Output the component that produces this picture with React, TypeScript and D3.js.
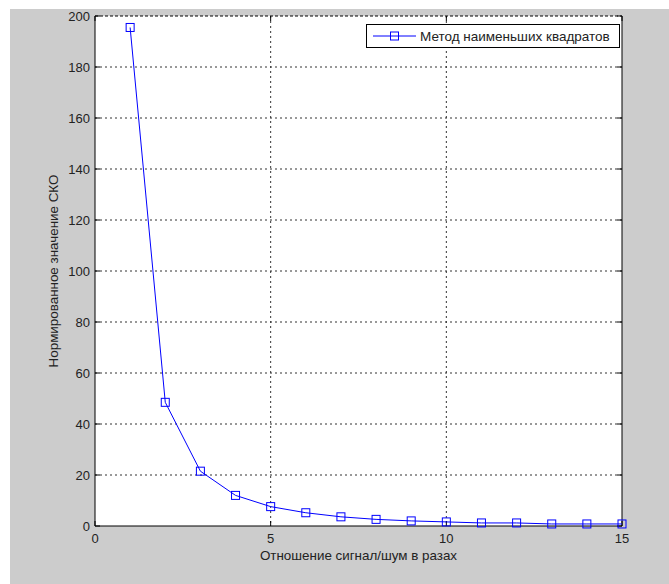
import React from "react";
import * as d3 from "d3";

const xValues = [1, 2, 3, 4, 5, 6, 7, 8, 9, 10, 11, 12, 13, 14, 15];
const yValues = [195.5, 48.5, 21.5, 12, 7.6, 5.2, 3.6, 2.6, 2.0, 1.6, 1.2, 1.2, 0.8, 0.8, 0.8];
const xTicks = [0, 5, 10, 15];
const yTicks = [0, 20, 40, 60, 80, 100, 120, 140, 160, 180, 200];
const seriesName = "Метод наименьших квадратов";
const xTitle = "Отношение сигнал/шум в разах";
const yTitle = "Нормированное значение СКО";

export default function App() {
  const W = 669, H = 584;
  const left = 95, right = 622, top = 16, bottom = 526;
  const x = d3.scaleLinear().domain([0, 15]).range([left, right]);
  const y = d3.scaleLinear().domain([0, 200]).range([bottom, top]);
  const line = d3.line<number>().x((_, i) => x(xValues[i])).y((d) => y(d));
  const font = "'Liberation Sans', Arial, sans-serif";
  const gridColor = "#333";
  const ms = 8;
  return (
    <svg width={W} height={H} style={{ position: "absolute", left: 0, top: 0, display: "block" }}>
      <rect x={0} y={0} width={W} height={H} fill="#fff" />
      <rect x={10} y={9} width={W - 10} height={H - 9} fill="#cccccc" />
      <rect x={left} y={top} width={right - left} height={bottom - top} fill="#fff" />
      {/* grid */}
      {xTicks.filter((t) => t > 0 && t < 15).map((t) => (
        <line key={"gx" + t} x1={x(t)} x2={x(t)} y1={top} y2={bottom} stroke={gridColor} strokeWidth={1} strokeDasharray="2,3" />
      ))}
      {yTicks.filter((t) => t > 0 && t < 200).map((t) => (
        <line key={"gy" + t} x1={left} x2={right} y1={y(t)} y2={y(t)} stroke={gridColor} strokeWidth={1} strokeDasharray="2,3" />
      ))}
      {/* ticks */}
      {yTicks.map((t) => (
        <g key={"ty" + t}>
          <line x1={left} x2={left + 5} y1={y(t)} y2={y(t)} stroke="#000" />
          <line x1={right} x2={right - 5} y1={y(t)} y2={y(t)} stroke="#000" />
          <text x={left - 5} y={y(t)} dy="0.35em" textAnchor="end" fontFamily={font} fontSize={13} fill="#222">{t}</text>
        </g>
      ))}
      {xTicks.map((t) => (
        <g key={"tx" + t}>
          <line x1={x(t)} x2={x(t)} y1={bottom} y2={bottom - 5} stroke="#000" />
          <line x1={x(t)} x2={x(t)} y1={top} y2={top + 5} stroke="#000" />
          <text x={x(t)} y={bottom + 12} dy="0.35em" textAnchor="middle" fontFamily={font} fontSize={13} fill="#222">{t}</text>
        </g>
      ))}
      {/* axes box */}
      <line x1={left} x2={left} y1={top} y2={bottom} stroke="#000" />
      <line x1={left} x2={right} y1={bottom} y2={bottom} stroke="#000" />
      <line x1={right} x2={right} y1={top} y2={bottom} stroke="#000" />
      <line x1={left} x2={right} y1={top} y2={top} stroke="#000" strokeDasharray="3,2" />
      {/* series */}
      <path d={line(yValues) || ""} fill="none" stroke="#0000ff" strokeWidth={1} />
      {yValues.map((v, i) => (
        <rect key={"m" + i} x={x(xValues[i]) - ms / 2} y={y(v) - ms / 2} width={ms} height={ms} fill="none" stroke="#0000ff" strokeWidth={1} />
      ))}
      {/* legend */}
      <rect x={366.5} y={24.5} width={253} height={23} fill="#fff" stroke="#000" strokeWidth={1} />
      <line x1={373} x2={416} y1={36} y2={36} stroke="#0000ff" />
      <rect x={394.5 - ms / 2} y={36 - ms / 2} width={ms} height={ms} fill="none" stroke="#0000ff" />
      <text x={420} y={36} dy="0.35em" fontFamily={font} fontSize={13.5} fill="#222">{seriesName}</text>
      {/* titles */}
      <text x={(left + right) / 2} y={555} dy="0.35em" textAnchor="middle" fontFamily={font} fontSize={13.4} fill="#222">{xTitle}</text>
      <text transform={`translate(53,${(top + bottom) / 2}) rotate(-90)`} dy="0.35em" textAnchor="middle" fontFamily={font} fontSize={13.4} fill="#222">{yTitle}</text>
    </svg>
  );
}
